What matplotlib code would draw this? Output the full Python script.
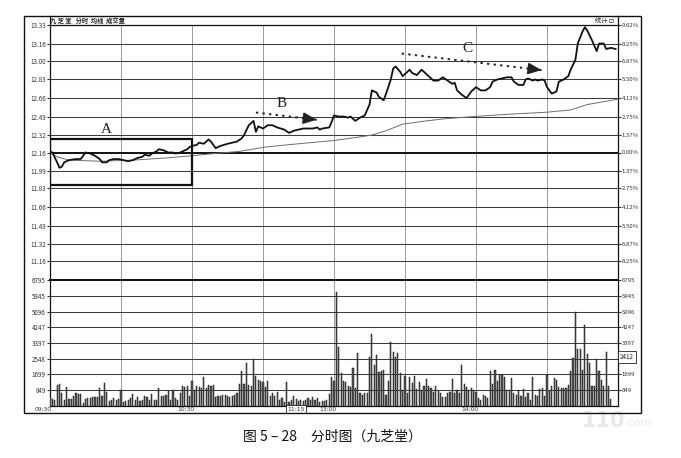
import matplotlib.pyplot as plt
import numpy as np
from matplotlib.patches import Rectangle
import matplotlib.transforms as mtransforms

plt.rcParams['font.family'] = ['Noto Sans CJK SC', 'DejaVu Sans']

# ---- data ----
prev_close = 12.16
price_ticks = [13.33, 13.16, 13.00, 12.83, 12.66, 12.49, 12.32, 12.16,
               11.99, 11.83, 11.66, 11.49, 11.32, 11.16]
pct_labels = ['9.62%', '8.25%', '6.87%', '5.50%', '4.12%', '2.75%', '1.37%', '0.00%',
              '1.37%', '2.75%', '4.12%', '5.50%', '6.87%', '8.25%']
vol_ticks = [849, 1699, 2548, 3397, 4247, 5096, 5945, 6795]
vol_ticks_right = [849, 1699, 3397, 4247, 5096, 5945, 6795]
cursor_vol = 2412

# price line: minute index (0 = 09:30, 120 = 11:30/13:00, 240 = 15:00)
price_min = [0, 1, 3, 4, 5, 6, 8, 11, 13, 14, 15, 17, 19, 21, 22, 24, 25, 27, 29, 31,
             33, 35, 37, 39, 40, 42, 43, 45, 46, 48, 50, 52, 53, 55, 56, 58, 59, 60, 62, 63,
             65, 67, 68, 70, 72, 75, 77, 79, 81, 82, 84, 86, 87, 88, 90, 92, 94, 96, 99, 101,
             103, 105, 107, 109, 111, 113, 114, 115, 118, 119, 120, 122, 124, 126, 127, 129, 131, 133, 135, 136,
             138, 139, 141, 142, 144, 145, 146, 148, 149, 151, 152, 153, 155, 157, 158, 160, 162, 164, 166, 168,
             170, 171, 172, 174, 176, 178, 180, 182, 184, 186, 187, 189, 191, 193, 195, 196, 198, 200, 201, 202,
             204, 205, 206, 208, 209, 210, 212, 214, 215, 217, 219, 220, 222, 223, 225, 226, 227, 229, 231, 232,
             234, 235, 237, 239]
price_val = [12.17, 12.16, 12.07, 12.02, 12.03, 12.07, 12.09, 12.10, 12.10, 12.13, 12.16, 12.15, 12.13, 12.10, 12.07, 12.07, 12.09, 12.10, 12.10, 12.09,
             12.08, 12.09, 12.11, 12.12, 12.14, 12.13, 12.15, 12.17, 12.19, 12.18, 12.16, 12.16, 12.15, 12.16, 12.17, 12.19, 12.21, 12.22, 12.23, 12.25,
             12.24, 12.28, 12.26, 12.20, 12.22, 12.24, 12.25, 12.26, 12.29, 12.32, 12.41, 12.45, 12.35, 12.40, 12.38, 12.41, 12.41, 12.39, 12.37, 12.34,
             12.36, 12.37, 12.38, 12.38, 12.38, 12.39, 12.37, 12.38, 12.39, 12.44, 12.50, 12.49, 12.49, 12.48, 12.49, 12.45, 12.48, 12.50, 12.60, 12.73,
             12.71, 12.67, 12.64, 12.70, 12.83, 12.93, 12.95, 12.90, 12.86, 12.90, 12.92, 12.89, 12.87, 12.92, 12.90, 12.86, 12.82, 12.82, 12.85, 12.82,
             12.79, 12.80, 12.73, 12.69, 12.66, 12.72, 12.76, 12.73, 12.73, 12.76, 12.81, 12.83, 12.84, 12.85, 12.85, 12.81, 12.78, 12.78, 12.83, 12.84,
             12.82, 12.83, 12.82, 12.83, 12.82, 12.76, 12.70, 12.72, 12.81, 12.83, 12.86, 12.92, 13.01, 13.16, 13.27, 13.31, 13.28, 13.19, 13.09, 13.16,
             13.16, 13.11, 13.12, 13.11]

avg_min = [0, 3, 8, 21, 35, 49, 60, 69, 80, 91, 100, 110, 120, 130, 136, 142, 149, 159,
           167, 179, 193, 210, 220, 227, 235, 240]
avg_val = [12.16, 12.12, 12.09, 12.08, 12.09, 12.11, 12.13, 12.15, 12.17, 12.21, 12.23, 12.25, 12.27,
           12.30, 12.32, 12.36, 12.42, 12.45, 12.47, 12.49, 12.51, 12.53, 12.55, 12.60, 12.63, 12.65]

vol_am = [430, 376, 340, 1146, 1200, 698, 340, 1021, 394, 376,
          555, 698, 645, 663, 161, 394, 412, 430, 466, 466,
          466, 967, 555, 1235, 752, 251, 305, 430, 340, 376,
          842, 215, 251, 340, 430, 663, 340, 484, 251, 340,
          519, 484, 340, 645, 305, 340, 967, 519, 555, 609,
          788, 340, 842, 430, 340, 698, 1056, 1021, 1056, 555,
          1325, 877, 1056, 1021, 967, 1558, 967, 1146, 1056, 1146,
          484, 555, 555, 573, 609, 555, 466, 519, 609, 698,
          1200, 1862, 1200, 2345, 1146, 1056, 2524, 1593, 1414, 1325,
          1271, 1021, 1325, 555, 698, 555, 770, 340, 430, 215,
          1271, 197, 305, 519, 376, 251, 340, 251, 305, 430,
          340, 484, 340, 430, 197, 287, 251, 340, 645, 1540,
          1325]
vol_pm = [6154, 3204, 1772, 1325, 1271, 1056, 1021, 2041, 967, 2882,
          698, 609, 698, 698, 2631, 3885, 2220, 2757, 1808, 1862,
          1916, 609, 1325, 3437, 2900, 2667, 2846, 1772, 842, 1593,
          698, 1558, 1235, 1593, 913, 1271, 877, 1056, 1450, 1092,
          967, 734, 1092, 788, 698, 484, 484, 698, 734, 1450,
          698, 842, 698, 2220, 1200, 1021, 877, 967, 877, 734,
          430, 340, 609, 519, 430, 1862, 1200, 1916, 1325, 1683,
          1683, 1558, 842, 842, 1504, 698, 609, 842, 555, 913,
          484, 698, 340, 1558, 609, 519, 913, 967, 519, 1683,
          788, 1092, 1504, 1379, 1021, 967, 967, 967, 1146, 1862,
          2578, 5083, 3061, 3061, 1951, 4368, 2811, 2309, 1092, 1092,
          2542, 1862, 1414, 1056, 2936, 1092, 376]

time_ticks = [0, 60, 105, 120, 180]
time_labels = ['09:30', '10:30', '11:15', '13:00', '14:00']

W, H = 681, 458


def fx(px):
    return px / W


def fy(py):
    return 1 - py / H


fig = plt.figure(figsize=(W / 100, H / 100), dpi=100)
fig.patch.set_facecolor('white')

ax_p = fig.add_axes([fx(50), fy(280), fx(568), 255 / H])
ax_v = fig.add_axes([fx(50), fy(406), fx(568), 126 / H])

lo = 2 * prev_close - 13.33
for ax in (ax_p, ax_v):
    ax.set_xlim(0, 240)
    for m in [30, 60, 90, 120, 150, 180, 210]:
        ax.axvline(m, color='#8c8c8c', lw=0.6, zorder=1)
    ax.set_xticks([])
    for s in ax.spines.values():
        s.set_color('#111111')
        s.set_linewidth(0.9)

# price panel
ax_p.set_ylim(lo, 13.33)
for t in price_ticks:
    ax_p.axhline(t, color='#111111' if t == prev_close else '#3c3c3c',
                 lw=1.4 if t == prev_close else 0.75, zorder=1)
ax_p.plot(avg_min, avg_val, color='#6e6e6e', lw=0.7, zorder=3)
ax_p.plot(price_min, price_val, color='#111111', lw=1.3, zorder=4, solid_joinstyle='round')
ax_p.set_yticks(price_ticks)
ax_p.set_yticklabels(['%.2f' % t for t in price_ticks])
ax_p.tick_params(axis='y', length=2, pad=1, labelsize=4.5, colors='#333333')
ax_p.spines['bottom'].set_linewidth(1.3)

axp_r = ax_p.twinx()
axp_r.set_ylim(lo, 13.33)
axp_r.set_yticks(price_ticks)
axp_r.set_yticklabels(pct_labels)
axp_r.tick_params(axis='y', length=2, pad=0.5, labelsize=4.3, colors='#333333')
for s in axp_r.spines.values():
    s.set_visible(False)

# annotations
ax_p.add_patch(Rectangle((0, 11.86), 60, 12.285 - 11.86, fill=False, lw=1.6,
                         edgecolor='#111111', zorder=5))
serif = dict(family='Liberation Serif', fontsize=11, color='#222222', ha='center', va='center')
ax_p.text(24, 12.37, 'A', **serif)
ax_p.text(98, 12.61, 'B', **serif)
ax_p.text(176.5, 13.11, 'C', **serif)

head = dict(arrowstyle='-|>,head_length=0.7,head_width=0.3', lw=1.0, color='#222222',
            mutation_scale=12, shrinkA=0, shrinkB=0)
for (x0, y0), (x1, y1) in [((87, 12.527), (112.7, 12.46)), ((148.6, 13.068), (207.7, 12.916))]:
    ax_p.plot([x0, x1], [y0, y1], color='#222222', lw=1.4, linestyle=(0, (1.2, 2.2)), zorder=5)
    xs, ys = x1 - 0.08 * (x1 - x0), y1 - 0.08 * (y1 - y0)
    ax_p.annotate('', xy=(x1, y1), xytext=(xs, ys), arrowprops=head, zorder=5)

# volume panel
ax_v.set_ylim(0, 6795)
for t in vol_ticks:
    ax_v.axhline(t, color='#3c3c3c', lw=0.75, zorder=1)
x_am = np.arange(len(vol_am))
x_pm = 121 + np.arange(len(vol_pm))
ax_v.bar(x_am, vol_am, width=0.5, color='#555555', edgecolor='#1a1a1a', lw=0.35, zorder=3)
ax_v.bar(x_pm, vol_pm, width=0.5, color='#555555', edgecolor='#1a1a1a', lw=0.35, zorder=3)
ax_v.set_yticks(vol_ticks)
ax_v.set_yticklabels([str(t) for t in vol_ticks])
ax_v.tick_params(axis='y', length=2, pad=1, labelsize=4.5, colors='#333333')
ax_v.spines['top'].set_linewidth(1.3)

axv_r = ax_v.twinx()
axv_r.set_ylim(0, 6795)
axv_r.set_yticks(vol_ticks_right)
axv_r.set_yticklabels([str(t) for t in vol_ticks_right])
axv_r.tick_params(axis='y', length=2, pad=0.5, labelsize=4.3, colors='#333333')
for s in axv_r.spines.values():
    s.set_visible(False)
axv_r.text(1.004, cursor_vol, str(cursor_vol),
           transform=mtransforms.blended_transform_factory(axv_r.transAxes, axv_r.transData),
           fontsize=4.5, color='#222222', ha='left', va='bottom',
           bbox=dict(boxstyle='square,pad=0.3', fc='white', ec='#222222', lw=0.6))

# time axis labels
trans = mtransforms.blended_transform_factory(ax_v.transData, ax_v.transAxes)
for m, lab in zip(time_ticks, time_labels):
    off = -3 if m == 0 else (-1 if m == 105 else -2.5)
    kw = {}
    if lab == '11:15':
        kw['bbox'] = dict(boxstyle='square,pad=0.25', fc='white', ec='#222222', lw=0.6)
    ax_v.text(m + off, -0.026, lab, transform=trans, fontsize=4.3, color='#333333',
              ha='center', va='center', family='DejaVu Sans', **kw)

# frame and header texts
fig.add_artist(Rectangle((fx(24), fy(413)), fx(617), 397 / H, transform=fig.transFigure,
                         fill=False, lw=1.0, edgecolor='#111111'))
fig.add_artist(plt.Line2D([fx(50), fx(50)], [fy(16), fy(25)], transform=fig.transFigure,
                          color='#111111', lw=0.9))
fig.add_artist(plt.Line2D([fx(618), fx(618)], [fy(16), fy(25)], transform=fig.transFigure,
                          color='#111111', lw=0.9))
fig.text(fx(50), fy(21), '九 芝 堂   分时  均线  成交量', fontsize=4.5, fontweight='bold',
         color='#222222', ha='left', va='center')
fig.text(fx(614), fy(21), '统计 ⊡', fontsize=4.5, color='#222222', ha='right', va='center')

# watermark
fig.text(fx(582), fy(421), '110', fontsize=15, fontweight='bold', color='#e8e8e8',
         ha='left', va='center', family='DejaVu Sans', zorder=0)
fig.text(fx(625), fy(423), '.com', fontsize=8, color='#e8e8e8',
         ha='left', va='center', family='DejaVu Sans', zorder=0)

# caption
fig.text(fx(332), fy(437), '图 5 – 28　分时图（九芝堂）', fontsize=10, color='#111111',
         ha='center', va='center')

fig.savefig('out.png', dpi=100, facecolor='white')
